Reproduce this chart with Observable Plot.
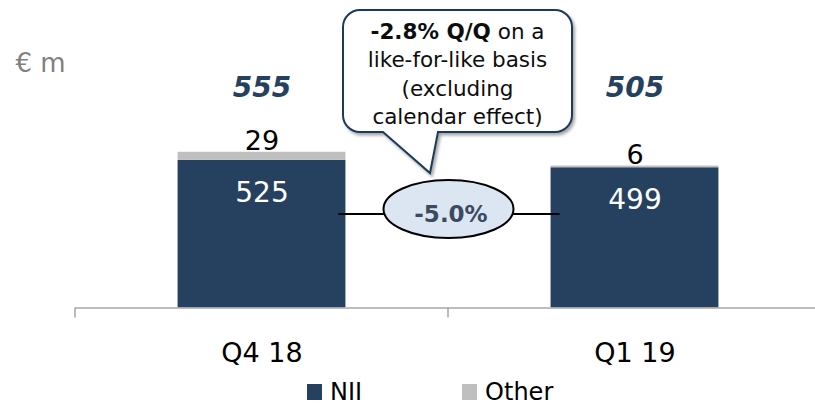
<!DOCTYPE html>
<html>
<head>
<meta charset="utf-8">
<script src="https://cdn.jsdelivr.net/npm/d3@7"></script>
<script src="https://cdn.jsdelivr.net/npm/@observablehq/plot@0.6"></script>
<style>
  body { margin: 0; background: #fff; }
  #chart { position: relative; width: 815px; height: 407px; font-family: "DejaVu Sans", sans-serif; }
  #legend { position: absolute; left: 307px; top: 380px; display: flex; align-items: center; font-size: 24px; line-height: 24px; color: #000; }
  #legend .item { display: flex; align-items: center; }
  #legend .sw { display: inline-block; width: 15px; height: 16px; margin-right: 8px; }
</style>
</head>
<body>
<div id="chart"><div id="legend"></div></div>
<script>
// ---- data ----
const categories = ["Q4 18", "Q1 19"];
const series = ["NII", "Other"];
const niiValues = [525, 499];
const otherValues = [29, 6];
const totalValues = [555, 505];
const unitLabel = "€ m";
const changeLabel = "-5.0%";
const calloutBold = "-2.8% Q/Q";
const calloutLines = [" on a", "like-for-like basis", "(excluding", "calendar effect)"];
const seriesColors = ["#26405f", "#bfbfbf"];

// ---- tables ----
const rows = categories.flatMap((c, i) => [
  {cat: c, series: series[0], value: niiValues[i]},
  {cat: c, series: series[1], value: otherValues[i]}
]);
const niiRows = categories.map((c, i) => ({cat: c, value: niiValues[i]}));
const otherRows = categories.map((c, i) => ({cat: c, value: otherValues[i], top: niiValues[i] + otherValues[i]}));
const totalRows = categories.map((c, i) => ({cat: c, total: totalValues[i]}));

// ---- layout ----
const W = 815, H = 372;
const xRange = [75, 821];
const padIn = 0.55, padOut = 0.275;
const xBand = d3.scaleBand(categories, xRange).paddingInner(padIn).paddingOuter(padOut);
const font = "DejaVu Sans";

function annotation(index, scales) {
  const g = d3.create("svg:g");
  const y0 = scales.y(0);
  const step = xBand.step(), bw = xBand.bandwidth();
  const gap = (step - bw) / 2;
  // category ticks at band boundaries
  categories.forEach(c => {
    const bx = xBand(c) - gap;
    g.append("line").attr("x1", bx).attr("x2", bx).attr("y1", y0).attr("y2", y0 + 10)
      .attr("stroke", "#a6a6a6").attr("stroke-width", 1.5);
  });
  const mid = xBand(categories[1]) - gap;

  const defs = g.append("defs");
  const f = defs.append("filter").attr("id", "shadow").attr("x", "-10%").attr("y", "-10%").attr("width", "130%").attr("height", "140%");
  f.append("feDropShadow").attr("dx", 2).attr("dy", 2.5).attr("stdDeviation", 1.8).attr("flood-color", "#000").attr("flood-opacity", 0.35);

  // connector lines
  const cy = 209, ly = 214, rx = 65, ry = 29;
  g.append("line").attr("x1", xBand(categories[0]) + bw - 7).attr("x2", mid - rx + 1).attr("y1", ly).attr("y2", ly)
    .attr("stroke", "#000").attr("stroke-width", 2);
  g.append("line").attr("x1", mid + rx - 1).attr("x2", xBand(categories[1]) + 9).attr("y1", ly).attr("y2", ly)
    .attr("stroke", "#000").attr("stroke-width", 2);

  // callout box
  const L = mid - 105, R = mid + 124, T = 10, B = 132, r = 17;
  const tailL = mid - 65, tailR = mid - 10, tipX = mid - 18, tipY = 173;
  const p = [
    `M${L + r},${T}`, `H${R - r}`, `A${r},${r} 0 0 1 ${R},${T + r}`,
    `V${B - r}`, `A${r},${r} 0 0 1 ${R - r},${B}`,
    `H${tailR}`, `L${tipX},${tipY}`, `L${tailL},${B}`,
    `H${L + r}`, `A${r},${r} 0 0 1 ${L},${B - r}`,
    `V${T + r}`, `A${r},${r} 0 0 1 ${L + r},${T}`, "Z"
  ].join("");
  g.append("path").attr("d", p).attr("fill", "#fff").attr("stroke", "#1f3a5c").attr("stroke-width", 2)
    .attr("filter", "url(#shadow)");
  const tx = (L + R) / 2;
  const baselines = [38.5, 67, 95.5, 124];
  const t1 = g.append("text").attr("x", tx).attr("y", baselines[0]).attr("text-anchor", "middle")
    .attr("font-family", font).attr("font-size", 21.5).attr("fill", "#0d0d0d");
  t1.append("tspan").attr("font-weight", "bold").text(calloutBold);
  t1.append("tspan").text(calloutLines[0]);
  calloutLines.slice(1).forEach((s, i) => {
    g.append("text").attr("x", tx).attr("y", baselines[i + 1]).attr("text-anchor", "middle")
      .attr("font-family", font).attr("font-size", 21.5).attr("fill", "#0d0d0d").text(s);
  });

  // ellipse
  g.append("ellipse").attr("cx", mid + 0.5).attr("cy", cy).attr("rx", rx).attr("ry", ry)
    .attr("fill", "#dce6f2").attr("stroke", "#000").attr("stroke-width", 2);
  g.append("text").attr("x", mid + 3).attr("y", 221.5).attr("text-anchor", "middle")
    .attr("font-family", font).attr("font-size", 23).attr("font-weight", "bold").attr("fill", "#3a4a5f")
    .text(changeLabel);
  return g.node();
}

const chart = Plot.plot({
  width: W,
  height: H,
  marginTop: 0,
  marginBottom: 64,
  marginLeft: 75,
  marginRight: 0,
  style: {fontFamily: font, background: "transparent", overflow: "visible"},
  x: {type: "band", domain: categories, range: xRange, paddingInner: padIn, paddingOuter: padOut, round: false, axis: null},
  y: {domain: [0, d3.max(totalValues)], range: [307.5, 151.5], axis: null},
  color: {domain: series, range: seriesColors},
  marks: [
    Plot.text(otherRows, {x: "cat", y: "top", text: d => String(d.value), dy: -11, fontSize: 27, fill: "#000"}),
    Plot.barY(rows, Plot.stackY({x: "cat", y: "value", fill: "series"})),
    Plot.text(niiRows, {x: "cat", y: "value", text: d => String(d.value), dy: 32.5, fontSize: 28, fill: "#fff"}),
    Plot.text(totalRows, {x: "cat", text: d => String(d.total), frameAnchor: "top", dy: 77, fontSize: 28, fontWeight: "bold", fontStyle: "italic", fill: "#26405f"}),
    Plot.ruleY([0], {stroke: "#a6a6a6", strokeWidth: 1.5}),
    Plot.text(categories, {x: d => d, text: d => d, frameAnchor: "bottom", dy: 53, fontSize: 27, fill: "#000"}),
    Plot.text([unitLabel], {frameAnchor: "top-left", dx: -60, dy: 53, textAnchor: "start", fontSize: 26, fill: "#808080"}),
    annotation
  ]
});
document.getElementById("chart").prepend(chart);

// legend
const legend = d3.select("#legend");
series.forEach((s, i) => {
  const item = legend.append("div").attr("class", "item").style("margin-right", i === 0 ? "100px" : "0");
  item.append("span").attr("class", "sw").style("background", seriesColors[i]);
  item.append("span").text(s);
});
</script>
</body>
</html>
